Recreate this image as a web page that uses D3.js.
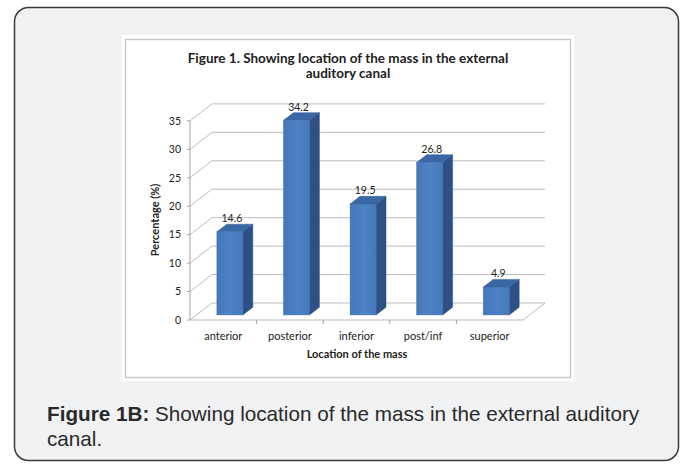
<!DOCTYPE html>
<html><head><meta charset="utf-8">
<script src="https://cdn.jsdelivr.net/npm/d3@7"></script>
<style>html,body{margin:0;padding:0;background:#fff;}svg{display:block;}</style>
</head><body>
<script>
const categories = ["anterior", "posterior", "inferior", "post/inf", "superior"];
const values = [14.6, 34.2, 19.5, 26.8, 4.9];
const yTicks = [0, 5, 10, 15, 20, 25, 30, 35];
const chartTitle = ["Figure 1. Showing location of the mass in the external", "auditory canal"];
const yTitle = "Percentage (%)";
const xTitle = "Location of the mass";
const captionBold = "Figure 1B:";
const captionRest = " Showing location of the mass in the external auditory";
const captionLine2 = "canal.";

const W = 685, H = 464;
const svg = d3.select("body").append("svg").attr("width", W).attr("height", H);

// outer panel
svg.append("rect").attr("x", 14.5).attr("y", 7.5).attr("width", 664).attr("height", 453)
  .attr("rx", 14).attr("fill", "#f1f2f4").attr("stroke", "#3a3a3a").attr("stroke-width", 1.5);

// chart image
svg.append("rect").attr("x", 122).attr("y", 35).attr("width", 452).attr("height", 346).attr("fill", "#fff");
svg.append("rect").attr("x", 125.5).attr("y", 39.5).attr("width", 445).attr("height", 338)
  .attr("fill", "#fff").attr("stroke", "#c9c9c9").attr("stroke-width", 1.5);

const chartFont = "Lato, 'Open Sans', sans-serif";
const x0 = 190, x1 = 523;
const D = {x: 22, y: -17};
const t0 = 0.3, t1 = 0.75;
const y = d3.scaleLinear().domain([0, 35]).range([320, 120.9]);
const xb = d3.scaleBand().domain(categories).range([x0, x1]);

const g = svg.append("g");
const grid = "#bdbdbd";
yTicks.forEach(v => {
  g.append("line").attr("x1", x0 + D.x).attr("x2", x1 + D.x)
    .attr("y1", y(v) + D.y).attr("y2", y(v) + D.y).attr("stroke", grid).attr("stroke-width", 1);
  g.append("line").attr("x1", x0).attr("x2", x0 + D.x)
    .attr("y1", y(v)).attr("y2", y(v) + D.y).attr("stroke", grid).attr("stroke-width", 1);
});
g.append("line").attr("x1", x0).attr("x2", x1).attr("y1", y(0)).attr("y2", y(0)).attr("stroke", grid);
g.append("line").attr("x1", x1).attr("x2", x1 + D.x).attr("y1", y(0)).attr("y2", y(0) + D.y).attr("stroke", grid);
g.append("line").attr("x1", x0).attr("x2", x0).attr("y1", y(0)).attr("y2", y(35)).attr("stroke", "#a0a0a0");
yTicks.forEach(v => {
  g.append("line").attr("x1", x0 - 3).attr("x2", x0).attr("y1", y(v)).attr("y2", y(v)).attr("stroke", "#a0a0a0");
  g.append("text").attr("x", 181).attr("y", y(v) + 3.8).attr("text-anchor", "end")
    .attr("font-family", chartFont).attr("font-size", 10.5).attr("fill", "#222").text(v);
});
categories.forEach((c, i) => {
  if (i > 0) g.append("line").attr("x1", xb(c)).attr("x2", xb(c)).attr("y1", y(0)).attr("y2", y(0) + 4).attr("stroke", "#a0a0a0");
  g.append("text").attr("x", xb(c) + xb.bandwidth() / 2).attr("y", 340).attr("text-anchor", "middle")
    .attr("font-family", chartFont).attr("font-size", 11).attr("fill", "#222").text(c);
});

const defs = svg.append("defs");
const grad = defs.append("linearGradient").attr("id", "front").attr("x1", 0).attr("x2", 1).attr("y1", 0).attr("y2", 0);
grad.append("stop").attr("offset", "0%").attr("stop-color", "#4677b8");
grad.append("stop").attr("offset", "50%").attr("stop-color", "#4d82c4");
grad.append("stop").attr("offset", "100%").attr("stop-color", "#4679ba");

const bw = xb.bandwidth() * 0.39;
const dd = {x: D.x * (t1 - t0), y: D.y * (t1 - t0)};
categories.forEach((c, i) => {
  const v = values[i];
  const fl = xb(c) + (xb.bandwidth() - bw) / 2 + D.x * t0;
  const fr = fl + bw;
  const ft = y(v) + D.y * t0;
  const fb = y(0) + D.y * t0;
  g.append("path").attr("d", `M${fr},${ft}L${fr + dd.x},${ft + dd.y}L${fr + dd.x},${fb + dd.y}L${fr},${fb}Z`)
    .attr("fill", "#2d5187").attr("stroke", "#2a4b7c").attr("stroke-width", 0.5);
  g.append("path").attr("d", `M${fl},${ft}L${fr},${ft}L${fr + dd.x},${ft + dd.y}L${fl + dd.x},${ft + dd.y}Z`)
    .attr("fill", "#3a67a6").attr("stroke", "#2f5a94").attr("stroke-width", 0.5);
  g.append("rect").attr("x", fl).attr("y", ft).attr("width", bw).attr("height", fb - ft)
    .attr("fill", "url(#front)").attr("stroke", "#3c69a8").attr("stroke-width", 0.5);
  g.append("text").attr("x", fl + bw / 2 + 2).attr("y", y(v) + D.y * t1 - 2).attr("text-anchor", "middle")
    .attr("font-family", chartFont).attr("font-size", 10.5).attr("fill", "#222").text(v);
});

chartTitle.forEach((t, i) => {
  svg.append("text").attr("x", 348).attr("y", 63 + i * 15).attr("text-anchor", "middle")
    .attr("font-family", chartFont).attr("font-weight", "bold").attr("font-size", 13.5).attr("fill", "#222").text(t);
});
svg.append("text").attr("transform", "translate(159,220) rotate(-90)").attr("text-anchor", "middle")
  .attr("font-family", chartFont).attr("font-weight", "bold").attr("font-size", 11).attr("fill", "#222").text(yTitle);
svg.append("text").attr("x", 357).attr("y", 358).attr("text-anchor", "middle")
  .attr("font-family", chartFont).attr("font-weight", "bold").attr("font-size", 11).attr("fill", "#222").text(xTitle);

const capFont = "'Liberation Sans', Arial, sans-serif";
const cap = svg.append("text").attr("x", 47).attr("y", 421)
  .attr("font-family", capFont).attr("font-size", 20.7).attr("fill", "#2a2a2a");
cap.append("tspan").attr("font-weight", "bold").text(captionBold);
cap.append("tspan").text(captionRest);
svg.append("text").attr("x", 47).attr("y", 446)
  .attr("font-family", capFont).attr("font-size", 20.7).attr("fill", "#2a2a2a").text(captionLine2);
</script>
</body></html>
